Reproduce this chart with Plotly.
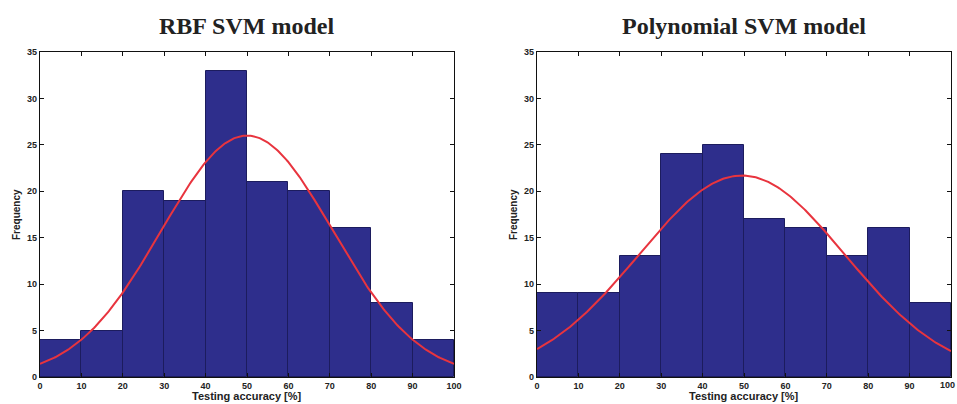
import numpy as np
import plotly.graph_objects as go

# ---- data ----
bin_centers = [5, 15, 25, 35, 45, 55, 65, 75, 85, 95]
rbf_counts = [4, 5, 20, 19, 33, 21, 20, 16, 8, 4]
poly_counts = [9, 9, 13, 24, 25, 17, 16, 13, 16, 8]
# fitted normal curve parameters (mean, std, peak height)
rbf_fit = dict(mu=50.0, sigma=20.7, peak=26.0)
poly_fit = dict(mu=49.5, sigma=24.9, peak=21.7)
x_ticks = list(range(0, 101, 10))
y_ticks = list(range(0, 36, 5))
titles = ["RBF SVM model", "Polynomial SVM model"]
x_label = "Testing accuracy [%]"
y_label = "Frequency"

W, H = 957, 404
bar_color = "#2E2E8C"
edge_color = "#1C1C5E"
curve_color = "#E8343E"

fig = go.Figure()

panels = [
    (rbf_counts, rbf_fit, "x", "y", (40, 454)),
    (poly_counts, poly_fit, "x2", "y2", (537, 951)),
]
y_top, y_bot = 52, 377

xs = np.linspace(0, 100, 300)
for counts, fit, xa, ya, _ in panels:
    fig.add_trace(go.Bar(x=bin_centers, y=counts, width=10, xaxis=xa, yaxis=ya,
                         marker=dict(color=bar_color, line=dict(color=edge_color, width=1)),
                         showlegend=False, hoverinfo="skip"))
    curve = fit["peak"] * np.exp(-((xs - fit["mu"]) ** 2) / (2 * fit["sigma"] ** 2))
    fig.add_trace(go.Scatter(x=xs, y=curve, mode="lines", xaxis=xa, yaxis=ya,
                             line=dict(color=curve_color, width=2),
                             showlegend=False, hoverinfo="skip"))

tickfont = dict(family="Liberation Sans", size=9, color="#222222", weight="bold")
ax_common = dict(showline=True, mirror="ticks", linecolor="#111111", linewidth=1.3,
                 ticks="inside", ticklen=4, tickcolor="#111111", tickwidth=1,
                 showgrid=False, zeroline=False, tickfont=tickfont, automargin=False)

ydom = [(H - y_bot) / H, (H - y_top) / H]
layout = dict(width=W, height=H, autosize=False,
              margin=dict(l=0, r=0, t=0, b=0, pad=0, autoexpand=False),
              plot_bgcolor="white", paper_bgcolor="white", bargap=0)
for i, (_, _, xa, ya, (xl, xr)) in enumerate(panels):
    xkey = "xaxis" if i == 0 else "xaxis2"
    ykey = "yaxis" if i == 0 else "yaxis2"
    layout[xkey] = dict(domain=[xl / W, xr / W], range=[0, 100], tickvals=x_ticks,
                        anchor=ya, **ax_common)
    layout[ykey] = dict(domain=ydom, range=[0, 35], tickvals=y_ticks, anchor=xa,
                        **ax_common)
fig.update_layout(**layout)

annotations = []
for i, (_, _, xa, ya, (xl, xr)) in enumerate(panels):
    cx = (xl + xr) / 2 / W
    annotations.append(dict(text=titles[i], x=cx, y=(H - 26) / H, xref="paper", yref="paper",
                            showarrow=False, xanchor="center", yanchor="middle",
                            font=dict(family="Liberation Serif", size=24, color="#222222",
                                      weight="bold")))
    annotations.append(dict(text=x_label, x=cx, y=(H - 396) / H, xref="paper", yref="paper",
                            showarrow=False, xanchor="center", yanchor="middle",
                            font=dict(family="Liberation Sans", size=11, color="#222222",
                                      weight="bold")))
    annotations.append(dict(text=y_label, x=(xl - 24) / W, y=(H - 215) / H, xref="paper",
                            yref="paper", showarrow=False, textangle=-90,
                            xanchor="center", yanchor="middle",
                            font=dict(family="Liberation Sans", size=10, color="#222222",
                                      weight="bold")))
# last tick label of the right panel, kept inside the page edge
annotations.append(dict(text=str(x_ticks[-1]), x=1.0, xref="paper",
                        y=(H - 385) / H, yref="paper", showarrow=False,
                        xanchor="right", yanchor="middle", borderpad=0, xshift=-1,
                        font=tickfont))
fig.update_layout(annotations=annotations)

fig.write_html("out.html", config={"displayModeBar": False},
               post_script="document.body.style.margin='0';document.body.style.overflow='hidden';")
